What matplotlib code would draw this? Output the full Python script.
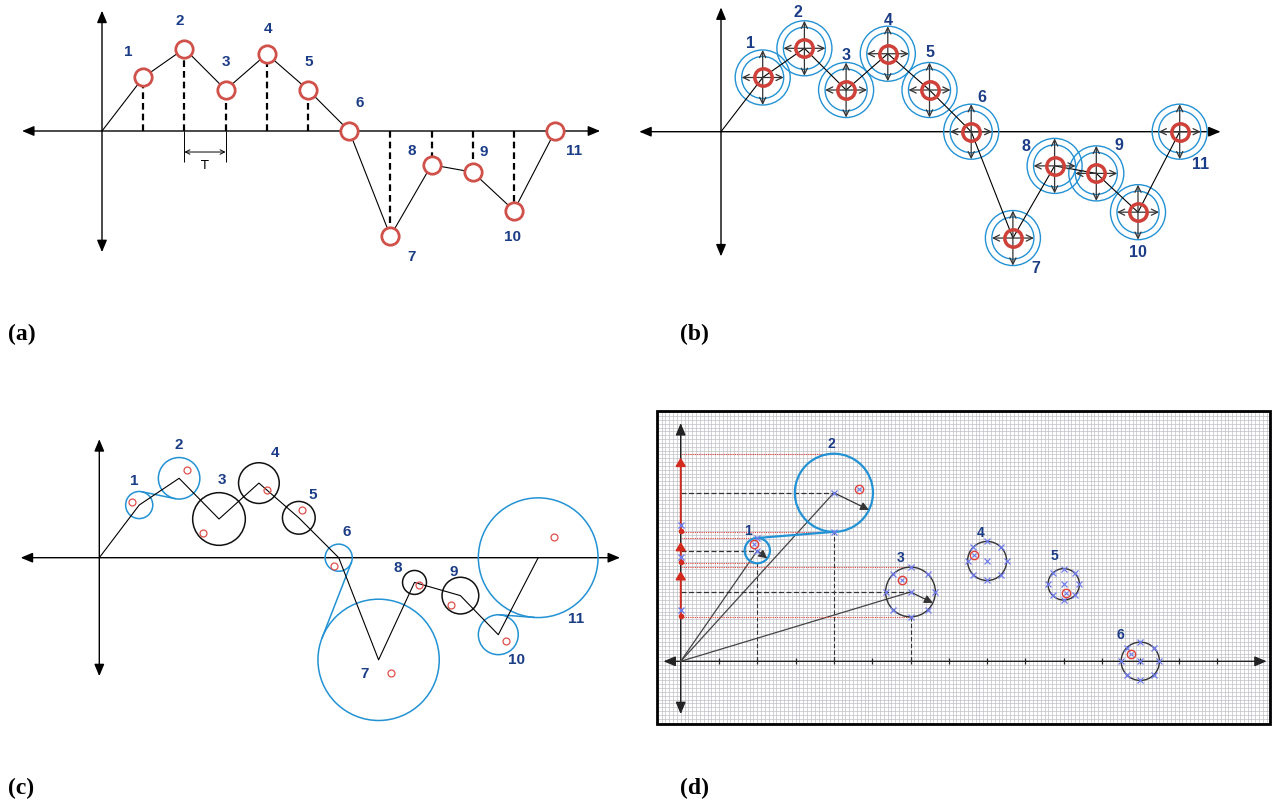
import numpy as np
import matplotlib.pyplot as plt
from matplotlib.patches import Circle, Rectangle

# samples used in (a) and (b)
idx = np.arange(1, 12)
vals = [1.3, 2.0, 1.0, 1.87, 1.0, 0.0, -2.55, -0.82, -1.0, -1.93, 0.0]
names = [str(i) for i in idx]

# (c) path, circle radius per point, observed points
c_t = [1.0, 2.0, 3.0, 4.0, 5.0, 6.0, 7.0, 7.9, 9.05, 10.0, 11.0]
c_v = [1.32, 1.99, 0.97, 1.87, 1.0, 0.0, -2.56, -0.62, -0.95, -1.93, 0.0]
c_rad = [0.34, 0.52, 0.66, 0.51, 0.41, 0.34, 1.52, 0.30, 0.46, 0.50, 1.50]
c_blue = [1, 1, 0, 0, 0, 1, 1, 0, 0, 1, 1]
c_obs_t = [0.81, 2.21, 2.59, 4.2, 5.09, 5.89, 7.3, 8.02, 8.81, 10.19, 11.4]
c_obs_v = [1.4, 2.2, 0.61, 1.70, 1.20, -0.2, -2.89, -0.68, -1.18, -2.09, 0.51]
c_links = [(0, 1), (5, 6), (9, 10)]

# (d) circles and observations
d_x = [2, 4, 6, 8, 10, 12]
d_y = [2.89, 4.40, 1.81, 2.62, 2.01, 0.0]
d_rad = [0.33, 1.02, 0.65, 0.51, 0.41, 0.5]
d_obs_x = [1.92, 4.66, 5.79, 7.67, 10.06, 11.75]
d_obs_y = [3.07, 4.51, 2.11, 2.77, 1.79, 0.18]
d_names = ['1', '2', '3', '4', '5', '6']
d_ticks = np.arange(1, 15)

# label placement (layout only)
a_lab = [(0.63, 1.93), (1.89, 2.69), (3.01, 1.71), (4.03, 2.49), (5.02, 1.71), (6.26, 0.70),
         (7.52, -3.03), (7.52, -0.46), (9.27, -0.49), (9.97, -2.54), (11.46, -0.46)]
b_lab = [(0.70, 2.14), (1.84, 2.88), (3.01, 1.86), (4.0, 2.70), (5.0, 1.92), (6.25, 0.84),
         (7.55, -3.25), (7.31, -0.34), (9.55, -0.31), (10.0, -2.87), (11.49, -0.77)]
c_lab = [(0.87, 1.95), (2.0, 2.85), (3.08, 1.97), (4.41, 2.66), (5.36, 1.6), (6.2, 0.68),
         (6.66, -2.9), (7.49, -0.23), (8.89, -0.33), (10.46, -2.54), (11.96, -1.51)]
d_lab = [(1.75, 3.43), (3.94, 5.70), (5.74, 2.72), (7.83, 3.37), (9.75, 2.78), (11.47, 0.71)]

NAVY = '#1B3C86'
RED = '#D0504A'
BLUE = '#2392D4'
XBLUE = '#6F7CEB'
LAB = dict(color=NAVY, fontweight='bold', family='Liberation Sans', ha='center', va='center')

W, H = 1277, 804
fig = plt.figure(figsize=(W / 100, H / 100), dpi=100)


def panel(box, origin, unit):
    x0, y0, x1, y1 = box
    ox, oy = origin
    ax = fig.add_axes([x0 / W, 1 - y1 / H, (x1 - x0) / W, (y1 - y0) / H])
    ax.set_xlim((x0 - ox) / unit, (x1 - ox) / unit)
    ax.set_ylim((oy - y1) / unit, (oy - y0) / unit)
    ax.axis('off')
    return ax


def axis_arrows(ax, xl, xr, yb, yt, lw=1.0, color='black'):
    kw = dict(arrowstyle='<|-|>,head_length=0.6,head_width=0.25', color=color, lw=lw,
              mutation_scale=12, shrinkA=0, shrinkB=0)
    ax.annotate('', xy=(xr, 0), xytext=(xl, 0), arrowprops=kw, zorder=1)
    ax.annotate('', xy=(0, yt), xytext=(0, yb), arrowprops=kw, zorder=1)


# ---------------- (a)
ax = panel((0, 0, 630, 310), (102, 132), 41.2)
axis_arrows(ax, -1.94, 12.09, -2.94, 2.92)
ax.plot([0] + list(idx), [0] + vals, color='black', lw=0.8, zorder=2)
for t, v in zip(idx, vals):
    if v != 0:
        ax.plot([t, t], [0, v], color='black', lw=1.6, ls=(0, (3, 1.8)), zorder=2)
ax.plot(idx, vals, 'o', ms=12.5, mfc='white', mec=RED, mew=2.0, zorder=4)
for (x, y), s in zip(a_lab, names):
    ax.text(x, y, s, fontsize=11, **LAB)
ax.vlines([idx[1], idx[2]], -0.75, 0, color='black', lw=0.7)
ax.annotate('', xy=(idx[2], -0.51), xytext=(idx[1], -0.51),
            arrowprops=dict(arrowstyle='<->', lw=0.7, shrinkA=0, shrinkB=0, mutation_scale=8))
ax.text((idx[1] + idx[2]) / 2, -0.82, 'T', ha='center', va='center', fontsize=9)

# ---------------- (b)
ax = panel((630, 0, 1277, 310), (721, 132.7), 41.7)
axis_arrows(ax, -1.96, 11.98, -2.99, 2.98)
ax.plot([0] + list(idx), [0] + vals, color='black', lw=0.8, zorder=3)
ring_in, ring_out = 0.504, 0.66
for t, v in zip(idx, vals):
    for r in (ring_in, ring_out):
        ax.add_patch(Circle((t, v), r, fill=False, ec=BLUE, lw=1.0, zorder=2))
    akw = dict(arrowstyle='<->,head_length=0.45,head_width=0.22', color='#333333', lw=0.9,
               shrinkA=0, shrinkB=0, mutation_scale=10)
    ax.annotate('', xy=(t + ring_in, v), xytext=(t - ring_in, v), arrowprops=akw, zorder=3)
    ax.annotate('', xy=(t, v + ring_out), xytext=(t, v - ring_out), arrowprops=akw, zorder=3)
ax.plot(idx, vals, 'o', ms=12.5, mfc='none', mec='#CF4038', mew=2.5, zorder=4)
for (x, y), s in zip(b_lab, names):
    ax.text(x, y, s, fontsize=11.5, **LAB)

# ---------------- (c)
ax = panel((0, 400, 640, 745), (99.3, 558.7), 39.9)
axis_arrows(ax, -1.97, 13.05, -2.97, 2.97)
ax.plot([0] + c_t, [0] + c_v, color='black', lw=0.8, zorder=3)
for t, v, r, b in zip(c_t, c_v, c_rad, c_blue):
    ax.add_patch(Circle((t, v), r, fill=False, ec=BLUE if b else '#111111', lw=1.1, zorder=2))
for i, j in c_links:
    p = np.array([c_t[i], c_v[i]])
    q = np.array([c_t[j], c_v[j]])
    d = np.hypot(*(q - p))
    a = np.arctan2(q[1] - p[1], q[0] - p[0]) + np.arccos((c_rad[i] + c_rad[j]) / d)
    n = np.array([np.cos(a), np.sin(a)])
    e1, e2 = p + c_rad[i] * n, q - c_rad[j] * n
    ax.plot([e1[0], e2[0]], [e1[1], e2[1]], color=BLUE, lw=1.1, zorder=2)
ax.plot(c_obs_t, c_obs_v, 'o', ms=5, mfc='none', mec='#E0504A', mew=0.9, zorder=4)
for (x, y), s in zip(c_lab, names):
    ax.text(x, y, s, fontsize=11, **LAB)

# ---------------- (d)
ox, oy, u = 680.7, 662.3, 38.3
ax = panel((650, 400, 1277, 745), (ox, oy), u)
bx0, bx1 = (657 - ox) / u, (1270 - ox) / u
by0, by1 = (oy - 725) / u, (oy - 412) / u
ax.add_patch(Rectangle((bx0, by0), bx1 - bx0, by1 - by0, fc='white', ec='none', zorder=0))
gx = np.arange(np.ceil(bx0 * 10) / 10, bx1, 0.1)
gy = np.arange(np.ceil(by0 * 10) / 10, by1, 0.1)
ax.vlines(gx, by0, by1, color='#bfbfc6', lw=0.5, zorder=0)
ax.hlines(gy, bx0, bx1, color='#bfbfc6', lw=0.5, zorder=0)
ax.add_patch(Rectangle((bx0, by0), bx1 - bx0, by1 - by0, fill=False, ec='black', lw=2.0, zorder=6))

axis_arrows(ax, -0.45, 15.3, -1.38, 6.22, lw=1.0, color='#222222')
ax.vlines(d_ticks, -0.08, 0.08, color='#222222', lw=0.9, zorder=2)

# projections of the first three circles
for k in range(3):
    cx, cy, r = d_x[k], d_y[k], d_rad[k]
    ax.plot([0, cx], [0, cy], color='#444444', lw=0.9, zorder=2)
    ax.plot([0, cx], [cy, cy], color='#333333', lw=0.9, ls=(0, (4, 2)), zorder=2)
    ax.plot([cx, cx], [0, cy - r], color='#333333', lw=0.8, ls=(0, (4, 2)), zorder=2)
    ax.hlines([cy + r, cy - r], 0, cx, color='#E2453C', lw=0.8, ls=(0, (1, 1)), zorder=2)
    ax.annotate('', xy=(0, cy + r - 0.1), xytext=(0, cy - r),
                arrowprops=dict(arrowstyle='-|>,head_length=0.5,head_width=0.3', color='#D42A1E',
                                lw=1.3, shrinkA=0, shrinkB=0, mutation_scale=10), zorder=3)
    ax.plot([0], [cy - r + 0.02], 'o', ms=3, color='#D42A1E', zorder=3)
    ax.plot([0], [cy - r + 0.17], 'x', ms=4, mew=1, color=XBLUE, zorder=4)
    ang = np.deg2rad(-38 if k == 0 else -26)
    ax.annotate('', xy=(cx + r * np.cos(ang), cy + r * np.sin(ang)), xytext=(cx, cy),
                arrowprops=dict(arrowstyle='-|>,head_length=0.5,head_width=0.25', color='#333333',
                                lw=0.9, shrinkA=0, shrinkB=0, mutation_scale=10), zorder=4)

for k, (cx, cy, r) in enumerate(zip(d_x, d_y, d_rad)):
    if k < 2:
        ax.add_patch(Circle((cx, cy), r, fill=False, ec=BLUE, lw=1.6, zorder=3))
    else:
        ax.add_patch(Circle((cx, cy), r, fill=False, ec='#333333', lw=1.0, zorder=3))
        ang = np.deg2rad(np.arange(0, 360, 45))
        ax.plot(cx + r * np.cos(ang), cy + r * np.sin(ang), 'x', ms=4, mew=0.9, color=XBLUE, zorder=4)
    ax.plot([cx], [cy], 'x', ms=4, mew=0.9, color=XBLUE, zorder=4)

# link between circle 1 and circle 2
p1 = (d_x[0], d_y[0] + d_rad[0])
p2 = (d_x[1], d_y[1] - d_rad[1])
ax.plot([p1[0], p2[0]], [p1[1], p2[1]], color=BLUE, lw=1.6, zorder=3)
ax.plot([p1[0], p2[0]], [p1[1], p2[1]], 'x', ms=4, mew=0.9, color=XBLUE, zorder=4)

ax.plot(d_obs_x, d_obs_y, 'o', ms=6, mfc='none', mec='#E0403A', mew=1.0, zorder=5)
ax.plot(d_obs_x, d_obs_y, 'x', ms=3.5, mew=0.8, color=XBLUE, zorder=5)
for (x, y), s in zip(d_lab, d_names):
    ax.text(x, y, s, fontsize=10, zorder=6, **LAB)

# panel letters
for x, y, s in [(8, 334, '(a)'), (680, 334, '(b)'), (8, 788, '(c)'), (680, 788, '(d)')]:
    fig.text(x / W, 1 - y / H, s, fontsize=17, fontweight='bold', family='Liberation Serif',
             ha='left', va='center')

fig.savefig('out.png', dpi=100)
